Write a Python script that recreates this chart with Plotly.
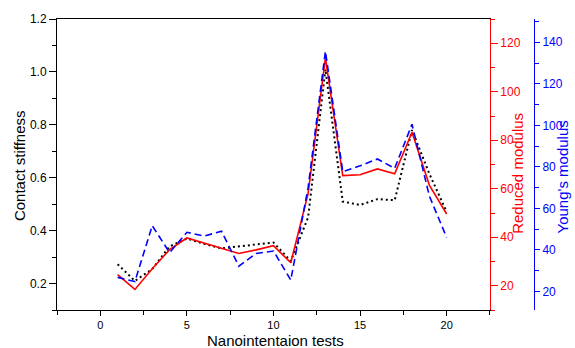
import plotly.graph_objects as go

tests = list(range(1, 21))
contact_stiffness = [0.273, 0.21, 0.255, 0.34, 0.37, 0.35, 0.333, 0.34, 0.348, 0.355,
                     0.285, 0.45, 1.01, 0.51, 0.497, 0.519, 0.515, 0.78, 0.615, 0.471]
reduced_modulus = [24.6, 18.5, 27.0, 34.9, 39.7, 37.6, 35.3, 33.3, 34.8, 36.5,
                   29.5, 58.0, 114.0, 65.4, 65.8, 68.2, 66.2, 83.3, 61.5, 49.6]
youngs_modulus = [26.8, 24.8, 51.7, 38.7, 48.5, 46.7, 49.0, 32.2, 38.3, 39.5,
                  25.5, 70.0, 135.7, 77.7, 80.5, 83.8, 79.3, 100.5, 66.0, 46.0]

FONT = "Liberation Sans, Arial, sans-serif"

fig = go.Figure()
fig.add_trace(go.Scatter(x=tests, y=contact_stiffness, mode="lines", yaxis="y",
                         line=dict(color="black", width=2, dash="2px,3px"),
                         name="Contact stiffness"))
fig.add_trace(go.Scatter(x=tests, y=youngs_modulus, mode="lines", yaxis="y3",
                         line=dict(color="#0000ff", width=1.6, dash="7px,4px"),
                         name="Young's modulus"))
fig.add_trace(go.Scatter(x=tests, y=reduced_modulus, mode="lines", yaxis="y2",
                         line=dict(color="#ff0000", width=1.6),
                         name="Reduced modulus"))

L, R, T, B = 57, 37.3, 15.7, 38.3
W, H = 575, 348
pw = W - L - R
xdom_end = (493.3 - L) / pw

fig.update_layout(
    width=W, height=H,
    margin=dict(l=L, r=R, t=T, b=B, pad=0),
    paper_bgcolor="white", plot_bgcolor="white",
    showlegend=False,
    font=dict(family=FONT, size=12, color="black"),
    xaxis=dict(domain=[0, xdom_end], range=[-2.5, 22.5], tick0=0, dtick=5,
               showline=True, linecolor="black", linewidth=1, mirror=True,
               ticks="outside", ticklen=5, tickcolor="black", showgrid=False, zeroline=False,
               minor=dict(dtick=2.5, tick0=0, ticks="outside", ticklen=4, tickcolor="black"),
               tickfont=dict(size=11, color="black")),
    yaxis=dict(range=[0.1, 1.2], tick0=0.2, dtick=0.2, tickformat=".1f",
               showline=True, linecolor="black", linewidth=1,
               ticks="outside", ticklen=7, tickcolor="black", showgrid=False, zeroline=False,
               minor=dict(dtick=0.1, tick0=0.1, ticks="outside", ticklen=4, tickcolor="black"),
               tickfont=dict(size=12, color="black")),
    yaxis2=dict(overlaying="y", side="right", anchor="x", range=[10, 130], tick0=0, dtick=20,
                showline=True, linecolor="#ff0000", linewidth=1,
                ticks="outside", ticklen=7, tickcolor="#ff0000", showgrid=False, zeroline=False,
                minor=dict(dtick=10, tick0=0, ticks="outside", ticklen=4, tickcolor="#ff0000"),
                tickfont=dict(size=12, color="#ff0000")),
    yaxis3=dict(overlaying="y", side="right", anchor="free", position=1.0,
                range=[11.1, 151.2], tick0=0, dtick=20,
                showline=True, linecolor="#0000ff", linewidth=1,
                ticks="outside", ticklen=5, tickcolor="#0000ff", showgrid=False, zeroline=False,
                minor=dict(dtick=10, tick0=0, ticks="outside", ticklen=4, tickcolor="#0000ff"),
                tickfont=dict(size=12, color="#0000ff")),
)

ph = H - T - B
def px_x(x):
    return (x - L) / pw
def px_y(y):
    return (H - B - y) / ph

annos = [
    dict(text="Contact stiffness", x=px_x(19), y=px_y(164), textangle=-90, color="black"),
    dict(text="Reduced modulus", x=px_x(521.7), y=px_y(172), textangle=-90, color="#ff0000"),
    dict(text="Young's modulus", x=px_x(566.7), y=px_y(175), textangle=-90, color="#0000ff"),
    dict(text="Nanointentaion tests", x=px_x(276.7), y=px_y(341), textangle=0, color="black"),
]
for a in annos:
    fig.add_annotation(text=a["text"], x=a["x"], y=a["y"], xref="paper", yref="paper",
                       xanchor="center", yanchor="middle", textangle=a["textangle"],
                       showarrow=False, font=dict(family=FONT, size=15, color=a["color"]))

fig.write_html("out.html")
